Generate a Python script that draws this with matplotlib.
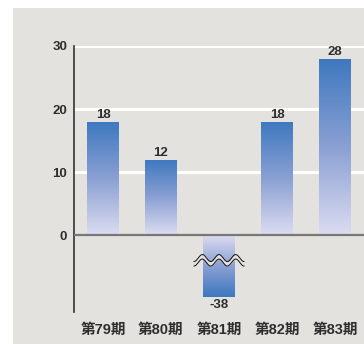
import numpy as np
import matplotlib
matplotlib.use("Agg")
import matplotlib.pyplot as plt
from matplotlib.patches import Rectangle
from matplotlib.colors import LinearSegmentedColormap

plt.rcParams['font.family'] = ['Liberation Sans', 'Noto Sans CJK JP', 'DejaVu Sans']

# data
periods = ["第79期", "第80期", "第81期", "第82期", "第83期"]
values = [18, 12, -38, 18, 28]
y_ticks = [0, 10, 20, 30]

# broken axis: values below this are drawn cut off at this level
break_floor = -9.8

bg = "#e3e2de"
dark_blue = "#3d78bf"
light_blue = "#dcdcf1"
text_col = "#2e2e2e"

fig = plt.figure(figsize=(3.64, 3.44), dpi=100, facecolor="white")
W, H = 364, 344
fig.patches.append(Rectangle((13 / W, 0), 1 - 13 / W, 1 - 8 / H,
                             transform=fig.transFigure, facecolor=bg,
                             edgecolor="none", zorder=-10))

ax = fig.add_axes([74 / W, 1 - 312 / H, 1 - 74 / W, (312 - 46) / H])
ax.set_facecolor("none")

# white grid lines
for t in y_ticks[1:]:
    ax.axhline(t, color="white", lw=2.2, zorder=1)

cmap = LinearSegmentedColormap.from_list("barfade", [light_blue, "#8aa0d3", dark_blue])
width = 0.55
x = np.arange(len(values))
shown = np.maximum(values, break_floor)
bars = ax.bar(x, shown, width=width, color="none", edgecolor="none", zorder=2)
for xi, v, b in zip(x, shown, bars):
    grad = np.linspace(0, 1, 256).reshape(-1, 1)
    if v < 0:
        grad = grad[::-1]
    lo, hi = min(0, v), max(0, v)
    im = ax.imshow(grad, cmap=cmap, aspect="auto", origin="lower",
                   extent=(xi - width / 2, xi + width / 2, lo, hi), zorder=2)
    im.set_clip_path(b)

ax.set_xlim(-0.5, 4.5)
ax.set_ylim(-12.15, 30)

# value labels
for xi, v, s in zip(x, values, shown):
    if v >= 0:
        ax.annotate(str(v), (xi, s), xytext=(0, 0.5), textcoords="offset points",
                    ha="center", va="bottom", fontsize=9.5, color=text_col,
                    fontweight="bold")
    else:
        ax.annotate(str(v), (xi, s), xytext=(0, -1.5), textcoords="offset points",
                    ha="center", va="top", fontsize=9.5, color=text_col,
                    fontweight="bold")

# break marker across the cut bar
px = 1 / 6.31
for xi, v in zip(x, values):
    if v < break_floor:
        wx = np.linspace(xi - 0.431, xi + 0.431, 200)
        phase = (wx - wx[0]) / (wx[-1] - wx[0]) * 3 * 2 * np.pi
        wave = -np.cos(phase) * 3.5 * px
        yc = -3.6
        upper = yc + wave
        lower = yc - 4.5 * px + wave
        ax.fill_between(wx, lower, upper, color=bg, zorder=3, lw=0)
        ax.plot(wx, upper, color="#111111", lw=0.7, zorder=4)
        ax.plot(wx, lower, color="#111111", lw=0.7, zorder=4)

# zero line
ax.axhline(0, color="#777777", lw=1.6, zorder=5)

ax.set_yticks(y_ticks)
ax.set_yticklabels([str(t) for t in y_ticks])
ax.set_xticks(x)
ax.set_xticklabels(periods)
ax.tick_params(axis="y", length=0, pad=5, labelsize=9.5, labelcolor=text_col)
ax.tick_params(axis="x", length=0, pad=8, labelsize=10.5, labelcolor=text_col)
for lab in ax.get_xticklabels() + ax.get_yticklabels():
    lab.set_fontweight("bold")

for s in ["top", "right", "bottom"]:
    ax.spines[s].set_visible(False)
ax.spines["left"].set_color("#333333")
ax.spines["left"].set_linewidth(1.2)

fig.savefig("out.png", dpi=100, facecolor="white")
